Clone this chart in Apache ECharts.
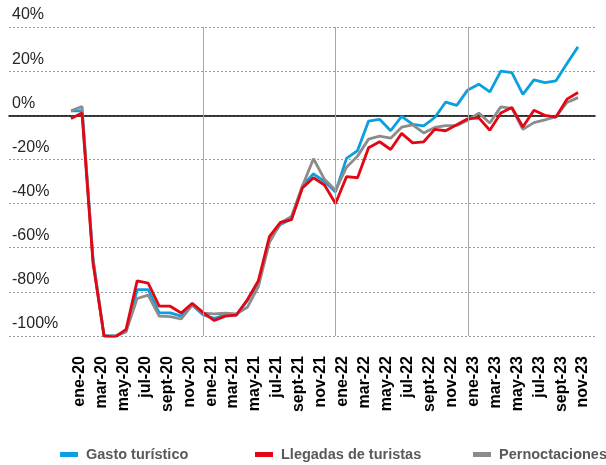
<!DOCTYPE html>
<html>
<head>
<meta charset="utf-8">
<script src="https://cdn.jsdelivr.net/npm/echarts@6/dist/echarts.min.js"></script>
<style>
  html, body { margin: 0; padding: 0; background: #fff; }
  #chart { width: 606px; height: 465px; }
</style>
</head>
<body>
<div id="chart"></div>
<script>
// meses ene-20 ... nov-23
const months = [
  "ene-20", "feb-20", "mar-20", "abr-20", "may-20", "jun-20", "jul-20", "ago-20", "sept-20", "oct-20", "nov-20", "dic-20",
  "ene-21", "feb-21", "mar-21", "abr-21", "may-21", "jun-21", "jul-21", "ago-21", "sept-21", "oct-21", "nov-21", "dic-21",
  "ene-22", "feb-22", "mar-22", "abr-22", "may-22", "jun-22", "jul-22", "ago-22", "sept-22", "oct-22", "nov-22", "dic-22",
  "ene-23", "feb-23", "mar-23", "abr-23", "may-23", "jun-23", "jul-23", "ago-23", "sept-23", "oct-23", "nov-23"
];

const gasto = [
  2, 2, -65, -100, -100, -98, -79, -79, -89.5, -89.5, -91, -86,
  -90.5, -92, -90.5, -90.5, -84, -75.5, -56.4, -49.5, -47, -32, -26.5, -30,
  -34.7, -19.5, -16, -2.6, -1.8, -7, -0.5, -4.1, -4.8, -1, 6, 4.5,
  11.5, 14.1, 10.6, 20, 19.3, 9.5, 16, 14.8, 15.6, 23.5, 31
];

const llegadas = [
  -1.5, 1, -67, -100, -100.5, -97, -75, -76, -86.5, -86.5, -89.6, -85.2,
  -89.4, -93, -91, -90.5, -83.6, -75, -55, -48.5, -47.3, -32.9, -28.3, -31.6,
  -40, -27.8, -28.3, -14.7, -12, -15.5, -8.2, -12.5, -12, -6.4, -7, -4.3,
  -1.6, -1.2, -6.8, 1, 3.5, -5.3, 2.3, 0, -0.8, 7.3, 10.3
];

const pernoctaciones = [
  2, 4, -66, -100, -100, -98, -83, -81.5, -91, -91.2, -92.3, -86,
  -89.7, -90, -89.7, -90, -87, -77.6, -57.7, -48.8, -45.8, -32, -19.7, -29,
  -34, -23.5, -18.5, -10.8, -9.4, -10.4, -5.4, -4.3, -8, -5.5, -4.7, -4.6,
  -2.2, 1, -3.5, 3.8, 3.1, -6.4, -3.3, -2.1, -0.6, 5.8, 8
];

const yearLines = ["ene-21", "ene-22", "ene-23"];

const chart = echarts.init(document.getElementById("chart"));
const font = "'Liberation Sans', Arial, sans-serif";

function legendItem(name, left) {
  return {
    data: [name], left: left, top: 442, icon: "rect",
    itemWidth: 18, itemHeight: 5,
    textStyle: { color: "#595959", fontSize: 14.5, fontWeight: "bold", fontFamily: font, padding: [0, 0, 0, 3] }
  };
}

const option = {
  animation: false,
  textStyle: { fontFamily: font },
  grid: [
    { left: 9, right: 11, top: 27, bottom: 129 },   // rejilla y linea del 0
    { left: 71, right: 28, top: 27, bottom: 129 },  // series
    { left: 80, right: 23, top: 27, bottom: 129 }   // etiquetas de meses
  ],
  legend: [
    legendItem("Gasto turístico", 55),
    legendItem("Llegadas de turistas", 250),
    legendItem("Pernoctaciones", 468)
  ],
  xAxis: [
    {
      gridIndex: 0, type: "value", min: 0, max: 1,
      axisLine: { show: true, onZero: true, lineStyle: { color: "#000", width: 1.5 } },
      axisTick: { show: false }, axisLabel: { show: false }, splitLine: { show: false }
    },
    {
      gridIndex: 1, type: "category", data: months, boundaryGap: false,
      axisLine: { show: false }, axisTick: { show: false }, axisLabel: { show: false }
    },
    {
      gridIndex: 2, type: "category", data: months, boundaryGap: false,
      axisLine: { show: false }, axisTick: { show: false },
      axisLabel: {
        interval: 1, rotate: 90, margin: 20,
        color: "#000", fontSize: 16, fontWeight: "bold", fontFamily: font
      }
    }
  ],
  yAxis: [
    {
      gridIndex: 0, type: "value", min: -100, max: 40, interval: 20,
      axisLine: { show: false }, axisTick: { show: false },
      axisLabel: {
        inside: true, margin: 3, verticalAlign: "bottom", lineHeight: 16,
        padding: [0, 0, 4, 0],
        color: "#262626", fontSize: 16, fontFamily: font,
        formatter: (v) => v + "%"
      },
      splitLine: { lineStyle: { color: "#9a9a9a", type: [2, 2], width: 1 } }
    },
    {
      gridIndex: 1, type: "value", min: -100, max: 40, interval: 20,
      axisLine: { show: false }, axisTick: { show: false },
      axisLabel: { show: false }, splitLine: { show: false }
    },
    {
      gridIndex: 2, type: "value", min: -100, max: 40, interval: 20, show: false
    }
  ],
  series: [
    {
      name: "Gasto turístico", type: "line", xAxisIndex: 1, yAxisIndex: 1,
      data: gasto, showSymbol: false, color: "#0a9fe0",
      lineStyle: { width: 2.8, color: "#0a9fe0" },
      markLine: {
        silent: true, symbol: "none", label: { show: false },
        lineStyle: { color: "#a6a6a6", type: "solid", width: 1 },
        data: yearLines.map((m) => ({ xAxis: m }))
      }
    },
    {
      name: "Pernoctaciones", type: "line", xAxisIndex: 1, yAxisIndex: 1,
      data: pernoctaciones, showSymbol: false, color: "#8c8c8c",
      lineStyle: { width: 2.8, color: "#8c8c8c" }
    },
    {
      name: "Llegadas de turistas", type: "line", xAxisIndex: 1, yAxisIndex: 1,
      data: llegadas, showSymbol: false, color: "#e30613",
      lineStyle: { width: 2.8, color: "#e30613" }
    }
  ]
};

chart.setOption(option);
</script>
</body>
</html>
